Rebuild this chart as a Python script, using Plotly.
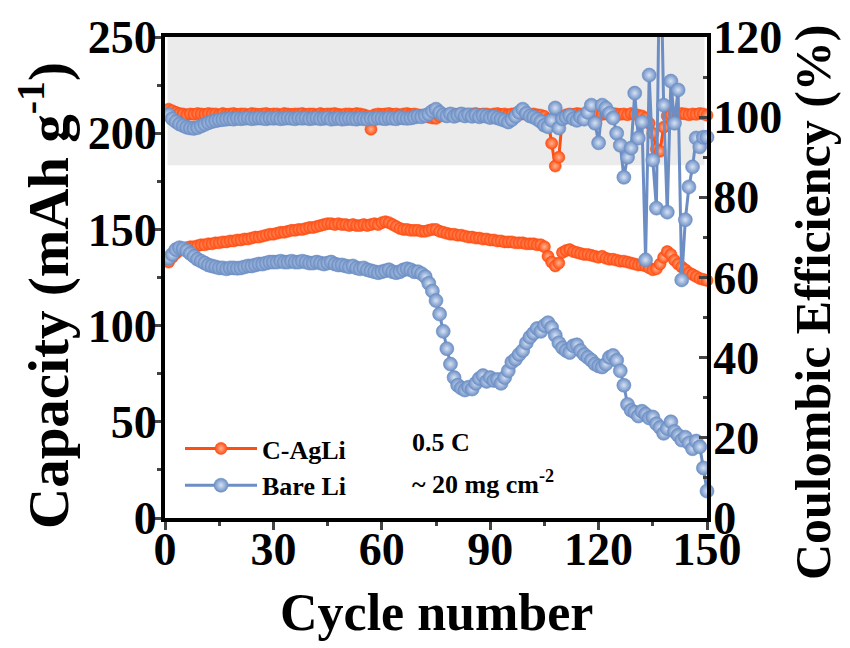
import plotly.graph_objects as go

cycles = list(range(1, 151))

cagli_capacity = [
    133, 135.5, 137.5, 139, 140, 140.5, 141, 141, 141.5, 142,
    142, 142.5, 142.5, 143, 143, 143.5, 143.5, 144, 144, 144.5,
    144.5, 145, 145, 145.5, 146, 146, 146.5, 147, 147.5, 147.5,
    148, 148.5, 148.5, 149, 149.5, 149.5, 150, 150, 150.5, 151,
    151, 151.5, 152, 152.5, 153, 153, 152.5, 153, 152.5, 152.5,
    152, 152.5, 152, 152, 152.5, 152, 152.5, 153, 152.5, 153.5,
    154, 153.5, 152.5, 151.5, 150.5, 150, 150, 149.5, 149.5, 149.5,
    149, 149, 149.5, 150, 150, 149, 148.5, 148, 147.5, 147.5,
    147, 147, 146.5, 146, 146, 145.5, 145.5, 145, 145, 144.5,
    144.5, 144, 144, 143.5, 143.5, 143.5, 143, 143, 143, 142.5,
    142.5, 142.5, 142, 142, 141, 136, 133, 131, 132.5, 138,
    139, 139.5, 138.5, 138, 137.5, 137, 137, 136.5, 136, 135.5,
    136, 135, 134.5, 134.5, 134, 133.5, 133.5, 133, 132.5, 132,
    131.5, 131.5, 131, 130, 129, 129.5, 132, 135.5, 138.5, 137,
    134, 132, 130.5, 129, 127.5, 126.5, 125.5, 124.5, 124, 123.5,
]

bare_capacity = [
    135, 137, 139.5, 140.5, 140, 139, 137.5, 136, 134.5, 133.5,
    132.5, 131.5, 131, 130.5, 130, 130, 129.5, 130, 130, 129.8,
    130, 130.5, 131, 131, 131.5, 132, 132, 132.5, 133, 133,
    133, 133.5, 133, 133, 133.5, 133, 133, 133.5, 133, 132.5,
    132.5, 133, 132.5, 132, 132.5, 133, 132, 131.5, 131.5, 131,
    130.5, 131, 130, 129.5, 130, 129, 128.5, 128, 127.5, 128,
    128.5, 129, 128, 127.5, 128, 129, 129.5, 129, 128, 128,
    127, 125.5, 122, 118, 113, 106, 97, 88, 80, 73,
    69, 67.5, 66.5, 68, 67, 70, 72.5, 74, 71, 73,
    71.5, 72, 70, 73, 76.5, 81, 82.5, 85, 87, 91,
    94, 96, 98.5, 97, 100, 101.5, 99, 95, 91, 88.5,
    87, 86, 89.5, 90, 87, 85, 83.5, 82, 80, 79,
    78.5, 80, 83.5, 84.5, 82, 76.5, 69, 59, 56, 55,
    53, 55.5, 54, 52, 52.5, 49, 47, 44, 46.5, 50,
    45, 43, 40.5, 42, 39, 36, 40, 37, 26, 14,
]

cagli_ce = [
    102.0, 101.6, 101.2, 100.9, 100.8, 100.6, 100.8, 100.7, 100.9, 100.8,
    100.7, 100.9, 100.8, 100.8, 100.6, 100.9, 100.7, 100.8, 100.9, 100.7,
    100.8, 100.8, 100.6, 100.9, 100.8, 100.7, 100.8, 100.9, 100.7, 100.8,
    100.8, 100.6, 100.9, 100.8, 100.7, 100.8, 100.8, 100.9, 100.7, 100.8,
    100.8, 100.6, 100.9, 100.7, 100.8, 100.8, 100.9, 100.7, 100.6, 100.8,
    100.8, 100.7, 100.9, 100.8, 100.6, 100.3, 97.0, 100.6, 100.8, 100.7,
    100.8, 100.9, 100.7, 100.8, 100.6, 100.8, 100.9, 100.7, 100.8, 100.6,
    100.5, 100.3, 100.0, 99.8, 99.7, 100.2, 100.5, 100.7, 100.8, 100.8,
    100.7, 100.9, 100.8, 100.6, 100.8, 100.9, 100.7, 100.8, 100.8, 100.6,
    100.8, 100.9, 100.7, 100.8, 100.6, 100.8, 100.9, 100.7, 100.8, 100.8,
    100.7, 100.8, 100.6, 100.5, 100.2, 99.5, 93.5, 87.8, 90.0, 100.2,
    100.6, 100.8, 100.7, 100.9, 100.8, 100.6, 100.8, 100.7, 100.9, 100.8,
    100.7, 100.8, 100.6, 100.9, 100.8, 100.7, 100.8, 100.6, 100.9, 100.7,
    100.5, 100.3, 99.8, 98.5, 96.0, 92.0, 91.5, 97.5, 100.3, 100.6,
    100.8, 100.7, 100.9, 100.8, 100.6, 100.8, 100.7, 100.9, 100.8, 100.5,
]

bare_ce = [
    100.6, 99.6, 98.9, 98.3, 97.9, 97.5, 97.3, 97.2, 97.4, 97.8,
    98.2, 98.6, 98.9, 99.1, 99.3, 99.4, 99.5, 99.6, 99.5, 99.7,
    99.6, 99.7, 99.8, 99.6, 99.7, 99.8, 99.7, 99.6, 99.8, 99.7,
    99.8, 99.6, 99.7, 99.8, 99.7, 99.6, 99.8, 99.7, 99.8, 99.6,
    99.7, 99.8, 99.6, 99.7, 99.8, 99.5, 99.6, 99.7, 99.5, 99.6,
    99.7, 99.6, 99.5, 99.7, 99.6, 99.5, 99.7, 99.6, 99.8, 99.7,
    99.6, 99.8, 99.7, 99.6, 99.9, 99.8, 99.7, 99.8, 100.0, 100.2,
    100.1, 100.4, 100.8, 101.5, 102.0, 101.2, 100.6, 100.3, 100.8, 100.2,
    100.5, 100.8, 100.3, 100.6, 100.2, 100.5, 100.1, 100.4, 100.2, 99.9,
    100.1, 99.8, 99.5, 99.2, 98.8, 99.4, 100.2, 101.2, 102.0, 101.0,
    100.3, 100.0, 99.5, 98.9, 98.0, 97.6, 99.2, 102.3, 97.3, 99.6,
    100.0, 100.4, 99.6, 99.2, 100.0, 99.5, 101.2, 103.0, 98.5, 93.6,
    103.0, 102.3, 101.0, 99.8, 96.0, 93.0, 85.0, 90.0, 92.3, 106.0,
    94.8, 98.8, 64.4, 110.5, 89.3, 77.3, 150.0, 103.0, 76.3, 109.0,
    98.5, 106.8, 59.4, 74.4, 82.6, 87.6, 94.8, 92.6, 95.0, 95.0,
]

series_names = ["C-AgLi", "Bare Li"]
x_ticks = [0, 30, 60, 90, 120, 150]
y_ticks = [0, 50, 100, 150, 200, 250]
y2_ticks = [0, 20, 40, 60, 80, 100, 120]
shade_ce = [88, 120]

ORANGE = "#FF4E12"
ORANGE_HI = "#FFB38F"
BLUE = "#6C8EC4"
BLUE_HI = "#D6E2F4"
FONT = "Liberation Serif"

# the page body adds an 8 px offset; the figure is sized to fill the rest
W, H = 842, 640
ML, MR, MT, MB = 157, 143, 29, 130

fig = go.Figure()

def add(y, name, color, hi, size, axis, legend):
    fig.add_trace(go.Scatter(
        x=cycles, y=y, name=name, yaxis=axis, mode="lines+markers",
        line=dict(color=color, width=3),
        marker=dict(size=size, color=color,
                    gradient=dict(type="radial", color=hi),
                    line=dict(width=0.6, color=color)),
        cliponaxis=False, showlegend=legend,
    ))

add(cagli_ce, series_names[0], ORANGE, ORANGE_HI, 12, "y2", False)
add(cagli_capacity, series_names[0], ORANGE, ORANGE_HI, 12, "y", True)
add(bare_ce, series_names[1], BLUE, BLUE_HI, 14, "y2", False)
add(bare_capacity, series_names[1], BLUE, BLUE_HI, 14, "y", True)

fig.add_shape(type="rect", xref="x", yref="y2", x0=0.7, x1=149.3,
              y0=shade_ce[0], y1=shade_ce[1], fillcolor="#EBEBEB",
              line=dict(width=0), layer="below")

tickfont = dict(family=FONT, size=46, color="black", weight="bold")
small = dict(family=FONT, size=26, color="black", weight="bold")

pw, ph = W - ML - MR, H - MT - MB

def px_to_paper(sx, sy):
    # screen pixel -> paper coords (screen = figure + 8)
    fx, fy = sx - 8, sy - 8
    return (fx - ML) / pw, (H - MB - fy) / ph

lx, ly = px_to_paper(180, 425)
tx, ty = px_to_paper(410, 443)
tx2, ty2 = px_to_paper(410, 483)
cx, cy = px_to_paper(44, 296)
rx, ry = px_to_paper(813, 303)
xx, xy = px_to_paper(436, 612)

fig.update_layout(
    width=W, height=H,
    margin=dict(l=ML, r=MR, t=MT, b=MB, pad=0),
    paper_bgcolor="white", plot_bgcolor="white",
    xaxis=dict(
        range=[0, 150], tickvals=x_ticks, ticks="outside", ticklen=8, tickwidth=3,
        minor=dict(dtick=15, ticks="outside", ticklen=4, tickwidth=3),
        showline=True, linewidth=4, linecolor="black", mirror=True,
        showgrid=False, zeroline=False, tickfont=tickfont, automargin=False,
        ticklabelstandoff=-20,
    ),
    yaxis=dict(
        range=[0, 250], tickvals=y_ticks, ticks="outside", ticklen=8, tickwidth=3,
        minor=dict(dtick=25, ticks="outside", ticklen=4, tickwidth=3),
        showline=True, linewidth=4, linecolor="black",
        showgrid=False, zeroline=False, tickfont=tickfont, automargin=False,
        ticklabelstandoff=-13,
    ),
    yaxis2=dict(
        range=[0, 120], tickvals=y2_ticks, overlaying="y", side="right",
        ticks="inside", ticklen=8, tickwidth=3,
        minor=dict(dtick=10, ticks="inside", ticklen=4, tickwidth=3),
        showline=True, linewidth=4, linecolor="black",
        showgrid=False, zeroline=False, tickfont=tickfont, automargin=False,
        ticklabelstandoff=-7,
    ),
    legend=dict(
        x=lx, y=ly, xanchor="left", yanchor="top",
        bgcolor="rgba(0,0,0,0)", itemwidth=72,
        font=small, tracegroupgap=0,
    ),
    annotations=[
        dict(text="Capacity (mAh g<sup>-1</sup>)", textangle=-90,
             x=cx, y=cy, xref="paper", yref="paper", showarrow=False,
             xanchor="center", yanchor="middle",
             font=dict(family=FONT, size=57, color="black", weight="bold")),
        dict(text="Coulombic Efficiency (%)", textangle=-90,
             x=rx, y=ry, xref="paper", yref="paper", showarrow=False,
             xanchor="center", yanchor="middle",
             font=dict(family=FONT, size=50, color="black", weight="bold")),
        dict(text="Cycle number", x=xx, y=xy, xref="paper", yref="paper",
             showarrow=False, xanchor="center", yanchor="middle",
             font=dict(family=FONT, size=52, color="black", weight="bold")),
        dict(text="0.5 C", x=tx, y=ty, xref="paper", yref="paper",
             xanchor="left", yanchor="middle", showarrow=False, font=small),
        dict(text="~ 20 mg cm<sup>-2</sup>", x=tx2, y=ty2, xref="paper", yref="paper",
             xanchor="left", yanchor="middle", showarrow=False, font=small),
    ],
)

fig.write_html("out.html")
